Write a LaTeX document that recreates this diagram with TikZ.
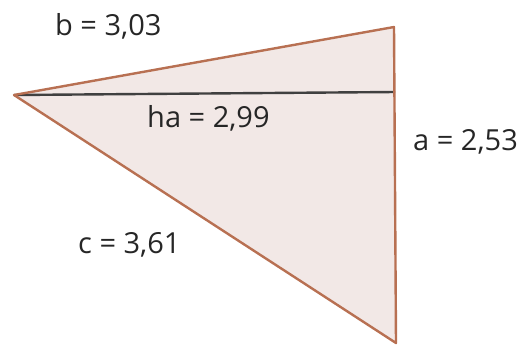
\documentclass[tikz,border=0pt]{standalone}
\usepackage{fontspec}
\setmainfont{Open Sans}
\begin{document}
\begin{tikzpicture}[x=1pt,y=-1pt,
  edge/.style={draw=edgecol,line width=2.4pt,line join=round},
  lbl/.style={font=\fontsize{29}{32}\selectfont,text=black!85,inner sep=0pt,anchor=base west}]
\definecolor{edgecol}{RGB}{184,112,82}
\definecolor{fillcol}{RGB}{242,232,230}
\useasboundingbox (0,0) rectangle (521,346);
\coordinate (A) at (14,95);
\coordinate (B) at (394,27);
\coordinate (C) at (396,343);
\coordinate (H) at (395,92);
\fill[fillcol] (A) -- (B) -- (C) -- cycle;
\draw[black!75,line width=2.4pt] (A) -- (H);
\draw[edge] (A) -- (B) -- (C) -- cycle;
\node[lbl] (lb) at (55,35) {b = 3,03};
\node[lbl] (lh) at (147,127) {ha = 2,99};
\node[lbl] (la) at (413,150) {a = 2,53};
\node[lbl] (lc) at (78,253) {c = 3,61};
\end{tikzpicture}
\end{document}
